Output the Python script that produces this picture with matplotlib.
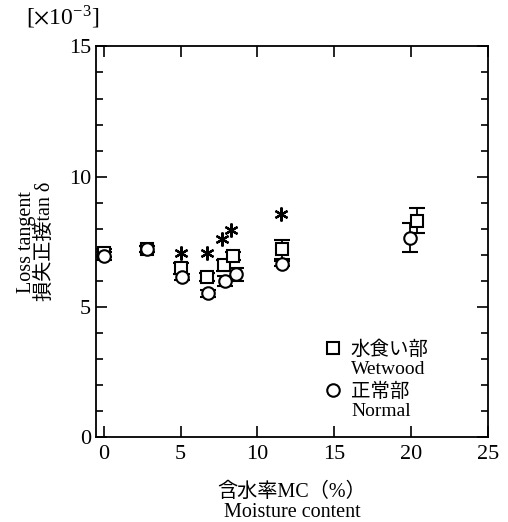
import numpy as np
import matplotlib
matplotlib.use("Agg")
import matplotlib.pyplot as plt
from matplotlib.ticker import MultipleLocator

plt.rcParams['font.family'] = ['Liberation Serif', 'Noto Sans CJK JP']
plt.rcParams['mathtext.fontset'] = 'stix'

# wetwood (square)
mc_wet = [0.0, 2.8, 5.0, 6.7, 7.8, 8.4, 11.6, 20.4]
tan_wet = [7.07, 7.22, 6.47, 6.13, 6.59, 6.94, 7.2, 8.3]
err_wet = [0.15, 0.12, 0.2, 0.15, 0.2, 0.15, 0.36, 0.48]

# normal (circle)
mc_nor = [0.0, 2.8, 5.1, 6.8, 7.9, 8.6, 11.6, 19.9]
tan_nor = [6.96, 7.22, 6.13, 5.51, 6.0, 6.25, 6.66, 7.66]
err_nor = [0.15, 0.12, 0.12, 0.12, 0.2, 0.25, 0.1, 0.57]

# significant difference markers
mc_sig = [5.0, 6.7, 7.7, 8.3, 11.5]
tan_sig = [7.05, 7.05, 7.62, 7.94, 8.55]

legend_names = ['水食い部\nWetwood', '正常部\nNormal']

fig = plt.figure(figsize=(5.08, 5.22), dpi=100)
ax = fig.add_axes([0.189, 0.163, 0.772, 0.748])

style = dict(ms=9, mfc='white', mec='black', mew=1.5, ecolor='black',
             elinewidth=1.3, capsize=6, capthick=1.3, linestyle='none')
ax.errorbar(mc_wet, tan_wet, yerr=err_wet, marker='s', **style)
ax.errorbar(mc_nor, tan_nor, yerr=err_nor, marker='o', **style)
ax.plot(mc_sig, tan_sig, linestyle='none', marker=(6, 2, 0), ms=10, mew=1.6, color='black')

ax.set_xlim(-0.5, 25)
ax.set_ylim(0, 15)
ax.xaxis.set_major_locator(MultipleLocator(5))
ax.yaxis.set_major_locator(MultipleLocator(5))
ax.yaxis.set_minor_locator(MultipleLocator(1))
ax.tick_params(which='both', direction='in', top=True, right=True, labelsize=16, width=1.2)
ax.tick_params(which='major', length=8)
ax.tick_params(which='minor', length=5)
ax.tick_params(axis='x', pad=6)
for s in ax.spines.values():
    s.set_linewidth(1.3)

ax.set_xlabel('含水率MC（%）\nMoisture content', fontsize=14.5, linespacing=1.1, labelpad=13)
ax.set_ylabel('Loss tangent\n損失正接tan δ', fontsize=14.5, linespacing=1.0, labelpad=10)
fig.text(0.052, 0.952, r'[$\times$10$^{\mathregular{-3}}$]', fontsize=17)

# legend drawn by hand so marker sits on the first line
for i, (mk, name) in enumerate(zip(['s', 'o'], legend_names)):
    y0 = 0.228 - i * 0.108
    ax.plot([0.605], [y0], marker=mk, ms=9, mfc='white', mec='black', mew=1.5,
            transform=ax.transAxes, clip_on=False)
    ax.text(0.65, y0 + 0.018, name, transform=ax.transAxes, fontsize=14, va='top',
            linespacing=1.15)

fig.savefig('out.png', dpi=100)
